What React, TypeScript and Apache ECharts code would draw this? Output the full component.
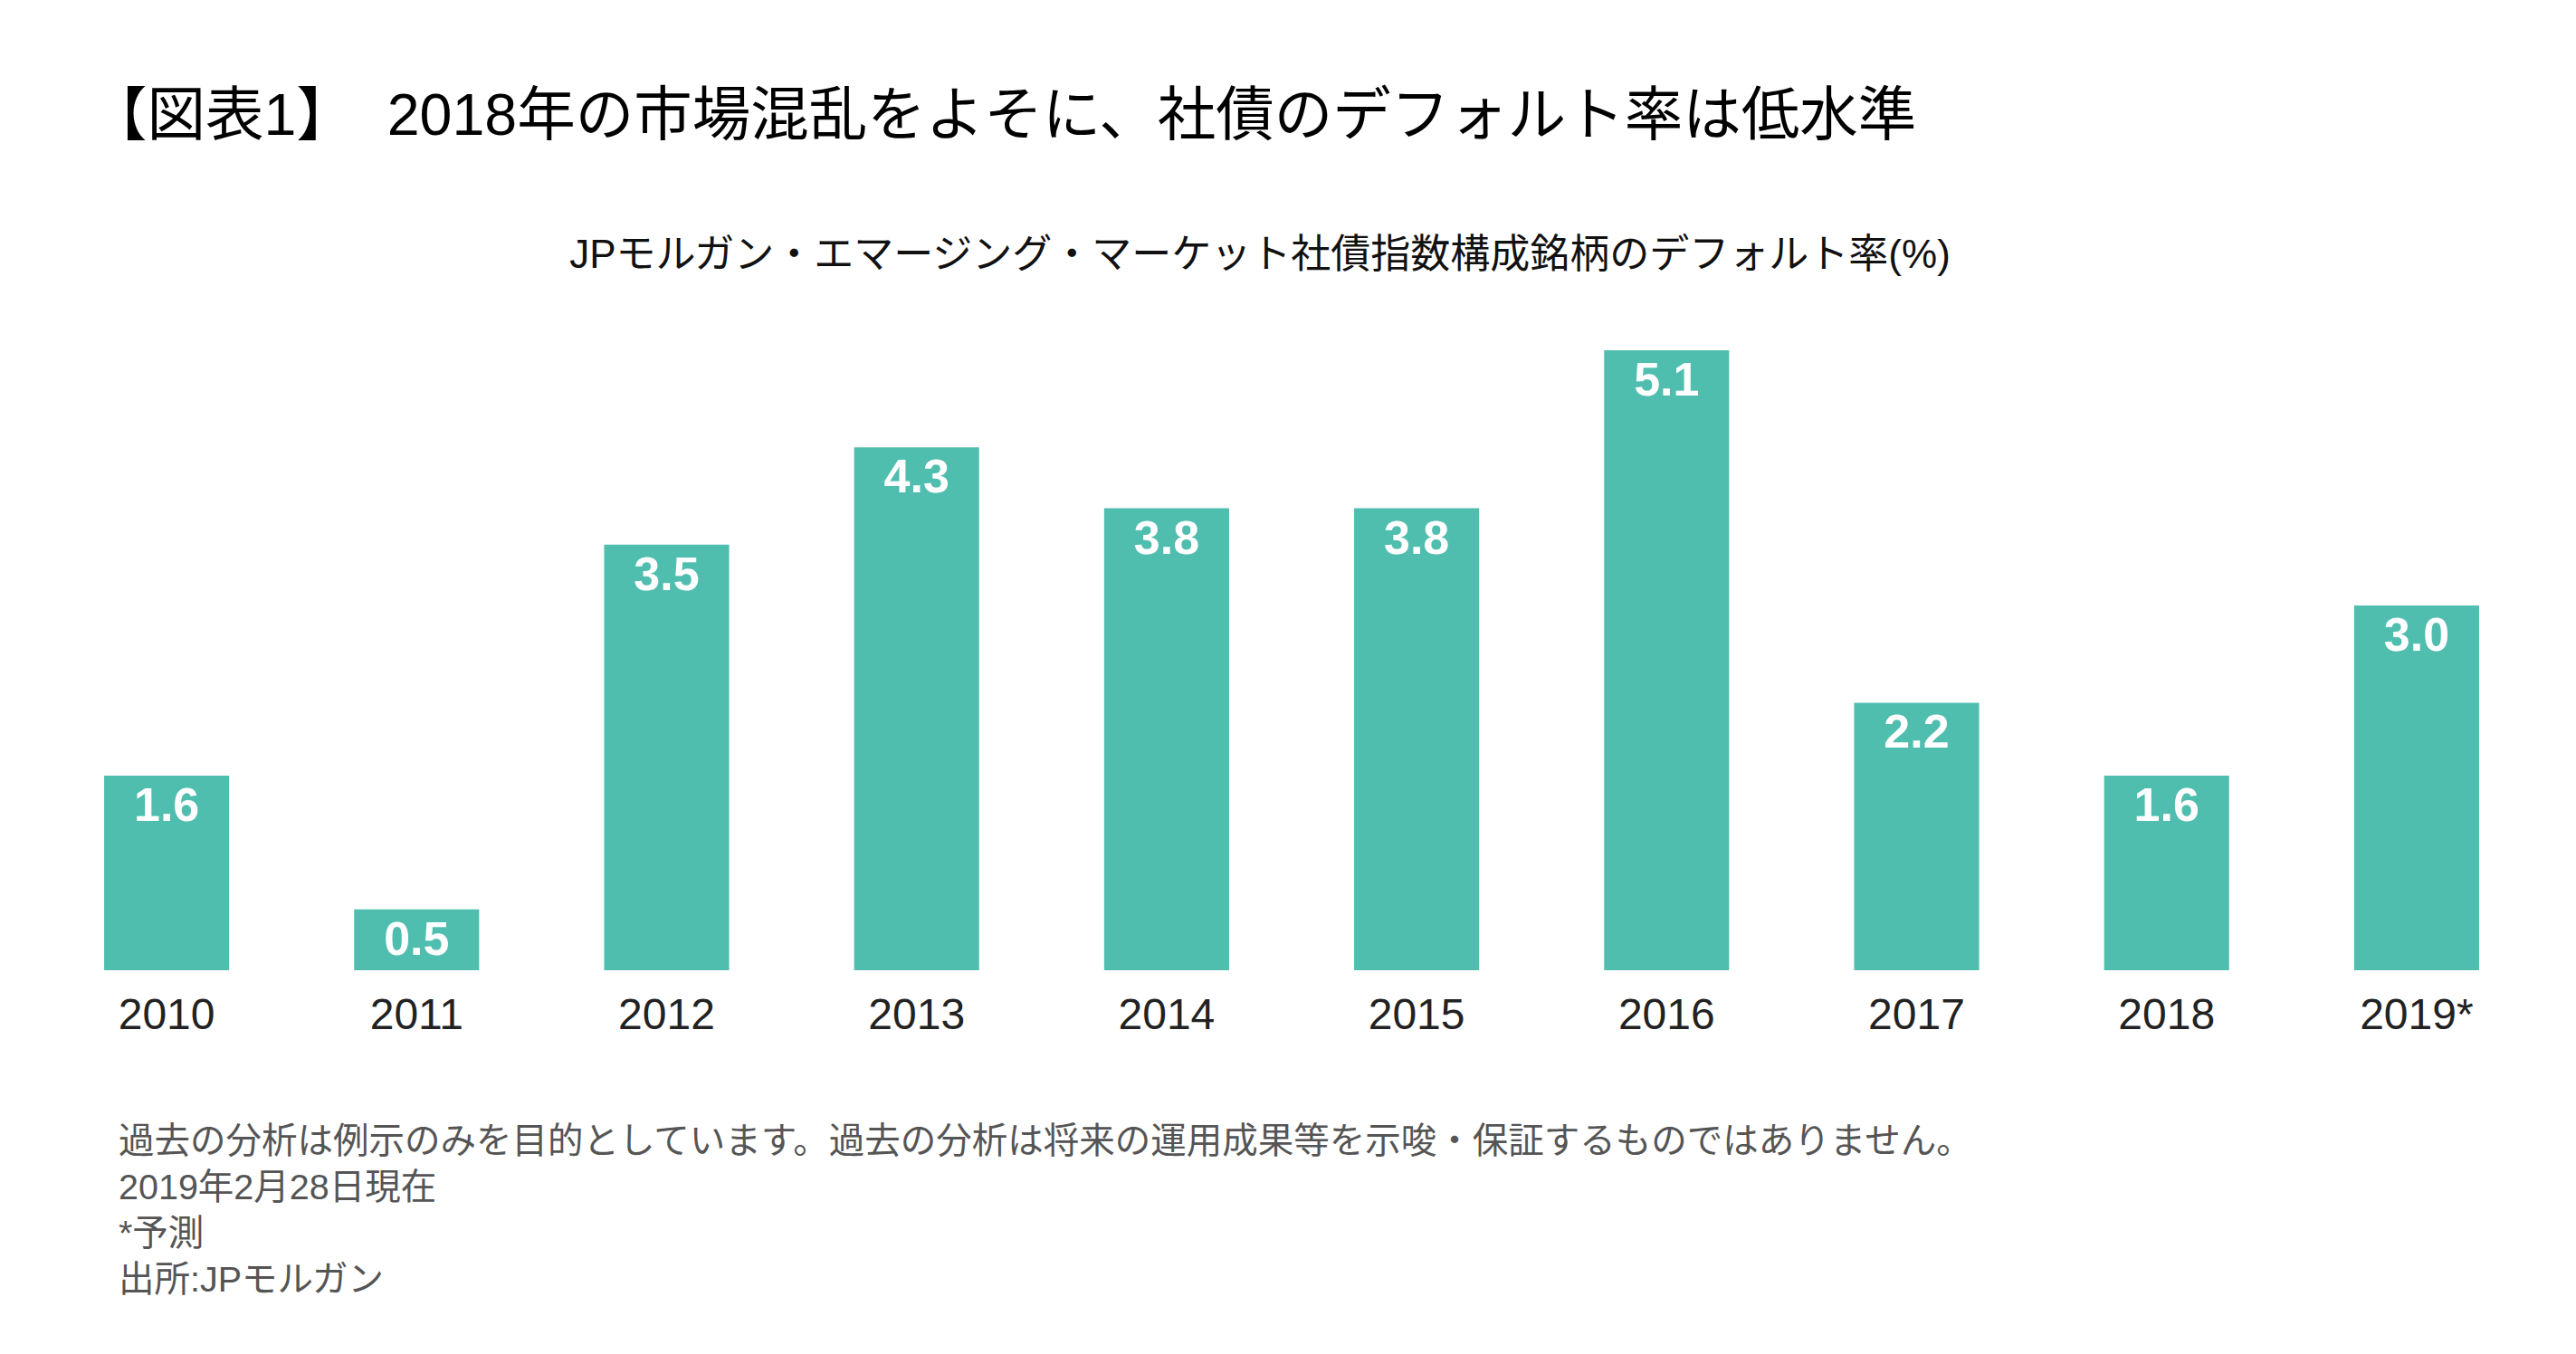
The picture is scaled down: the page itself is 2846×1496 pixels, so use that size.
import React, { useEffect, useRef } from "react";
import * as echarts from "echarts";

const years = ["2010", "2011", "2012", "2013", "2014", "2015", "2016", "2017", "2018", "2019*"];
const defaultRates = [1.6, 0.5, 3.5, 4.3, 3.8, 3.8, 5.1, 2.2, 1.6, 3.0];
const titleText = "【図表1】  2018年の市場混乱をよそに、社債のデフォルト率は低水準";
const subtitleText = "JPモルガン・エマージング・マーケット社債指数構成銘柄のデフォルト率(%)";
const footnotes = [
  "過去の分析は例示のみを目的としています。過去の分析は将来の運用成果等を示唆・保証するものではありません。",
  "2019年2月28日現在",
  "*予測",
  "出所:JPモルガン",
];

const FONT = "'Liberation Sans', Arial, 'Noto Sans CJK JP', sans-serif";

export default function App() {
  const ref = useRef<HTMLDivElement>(null);
  useEffect(() => {
    if (!ref.current) return;
    const chart = echarts.init(ref.current, null, { renderer: "svg" });
    const footY = [1240, 1291, 1342, 1393];
    chart.setOption({
      animation: false,
      backgroundColor: "#ffffff",
      textStyle: { fontFamily: FONT },
      grid: { left: 46, right: 38, top: 266, bottom: 1496 - 1072, containLabel: false },
      xAxis: {
        type: "category",
        data: years,
        axisLine: { show: false },
        axisTick: { show: false },
        axisLabel: { fontSize: 48, color: "#222222", margin: 24, fontFamily: FONT },
      },
      yAxis: {
        type: "value",
        min: 0,
        max: 6,
        show: false,
        splitLine: { show: false },
      },
      series: [
        {
          type: "bar",
          data: defaultRates,
          barWidth: "50%",
          itemStyle: { color: "#50BEAF" },
          label: {
            show: true,
            position: "insideTop",
            distance: 6,
            color: "#ffffff",
            fontWeight: "bold",
            fontSize: 52,
            fontFamily: FONT,
            formatter: (p: any) => Number(p.value).toFixed(1),
          },
        },
      ],
      graphic: [
        {
          type: "text",
          left: 98,
          top: 95,
          style: { text: titleText, fontSize: 64.5, fill: "#000000", fontFamily: FONT },
        },
        {
          type: "text",
          x: 1392,
          y: 258,
          style: {
            text: subtitleText,
            fontSize: 44,
            fill: "#111111",
            fontFamily: FONT,
            textAlign: "center",
          },
        },
        ...footnotes.map((t, i) => ({
          type: "text",
          x: 131,
          y: footY[i],
          style: { text: t, fontSize: 39.5, fill: "#555555", fontFamily: FONT },
        })),
      ],
    });
    return () => chart.dispose();
  }, []);
  return (
    <div
      ref={ref}
      style={{ position: "absolute", left: 0, top: 0, width: 2846, height: 1496 }}
    />
  );
}
